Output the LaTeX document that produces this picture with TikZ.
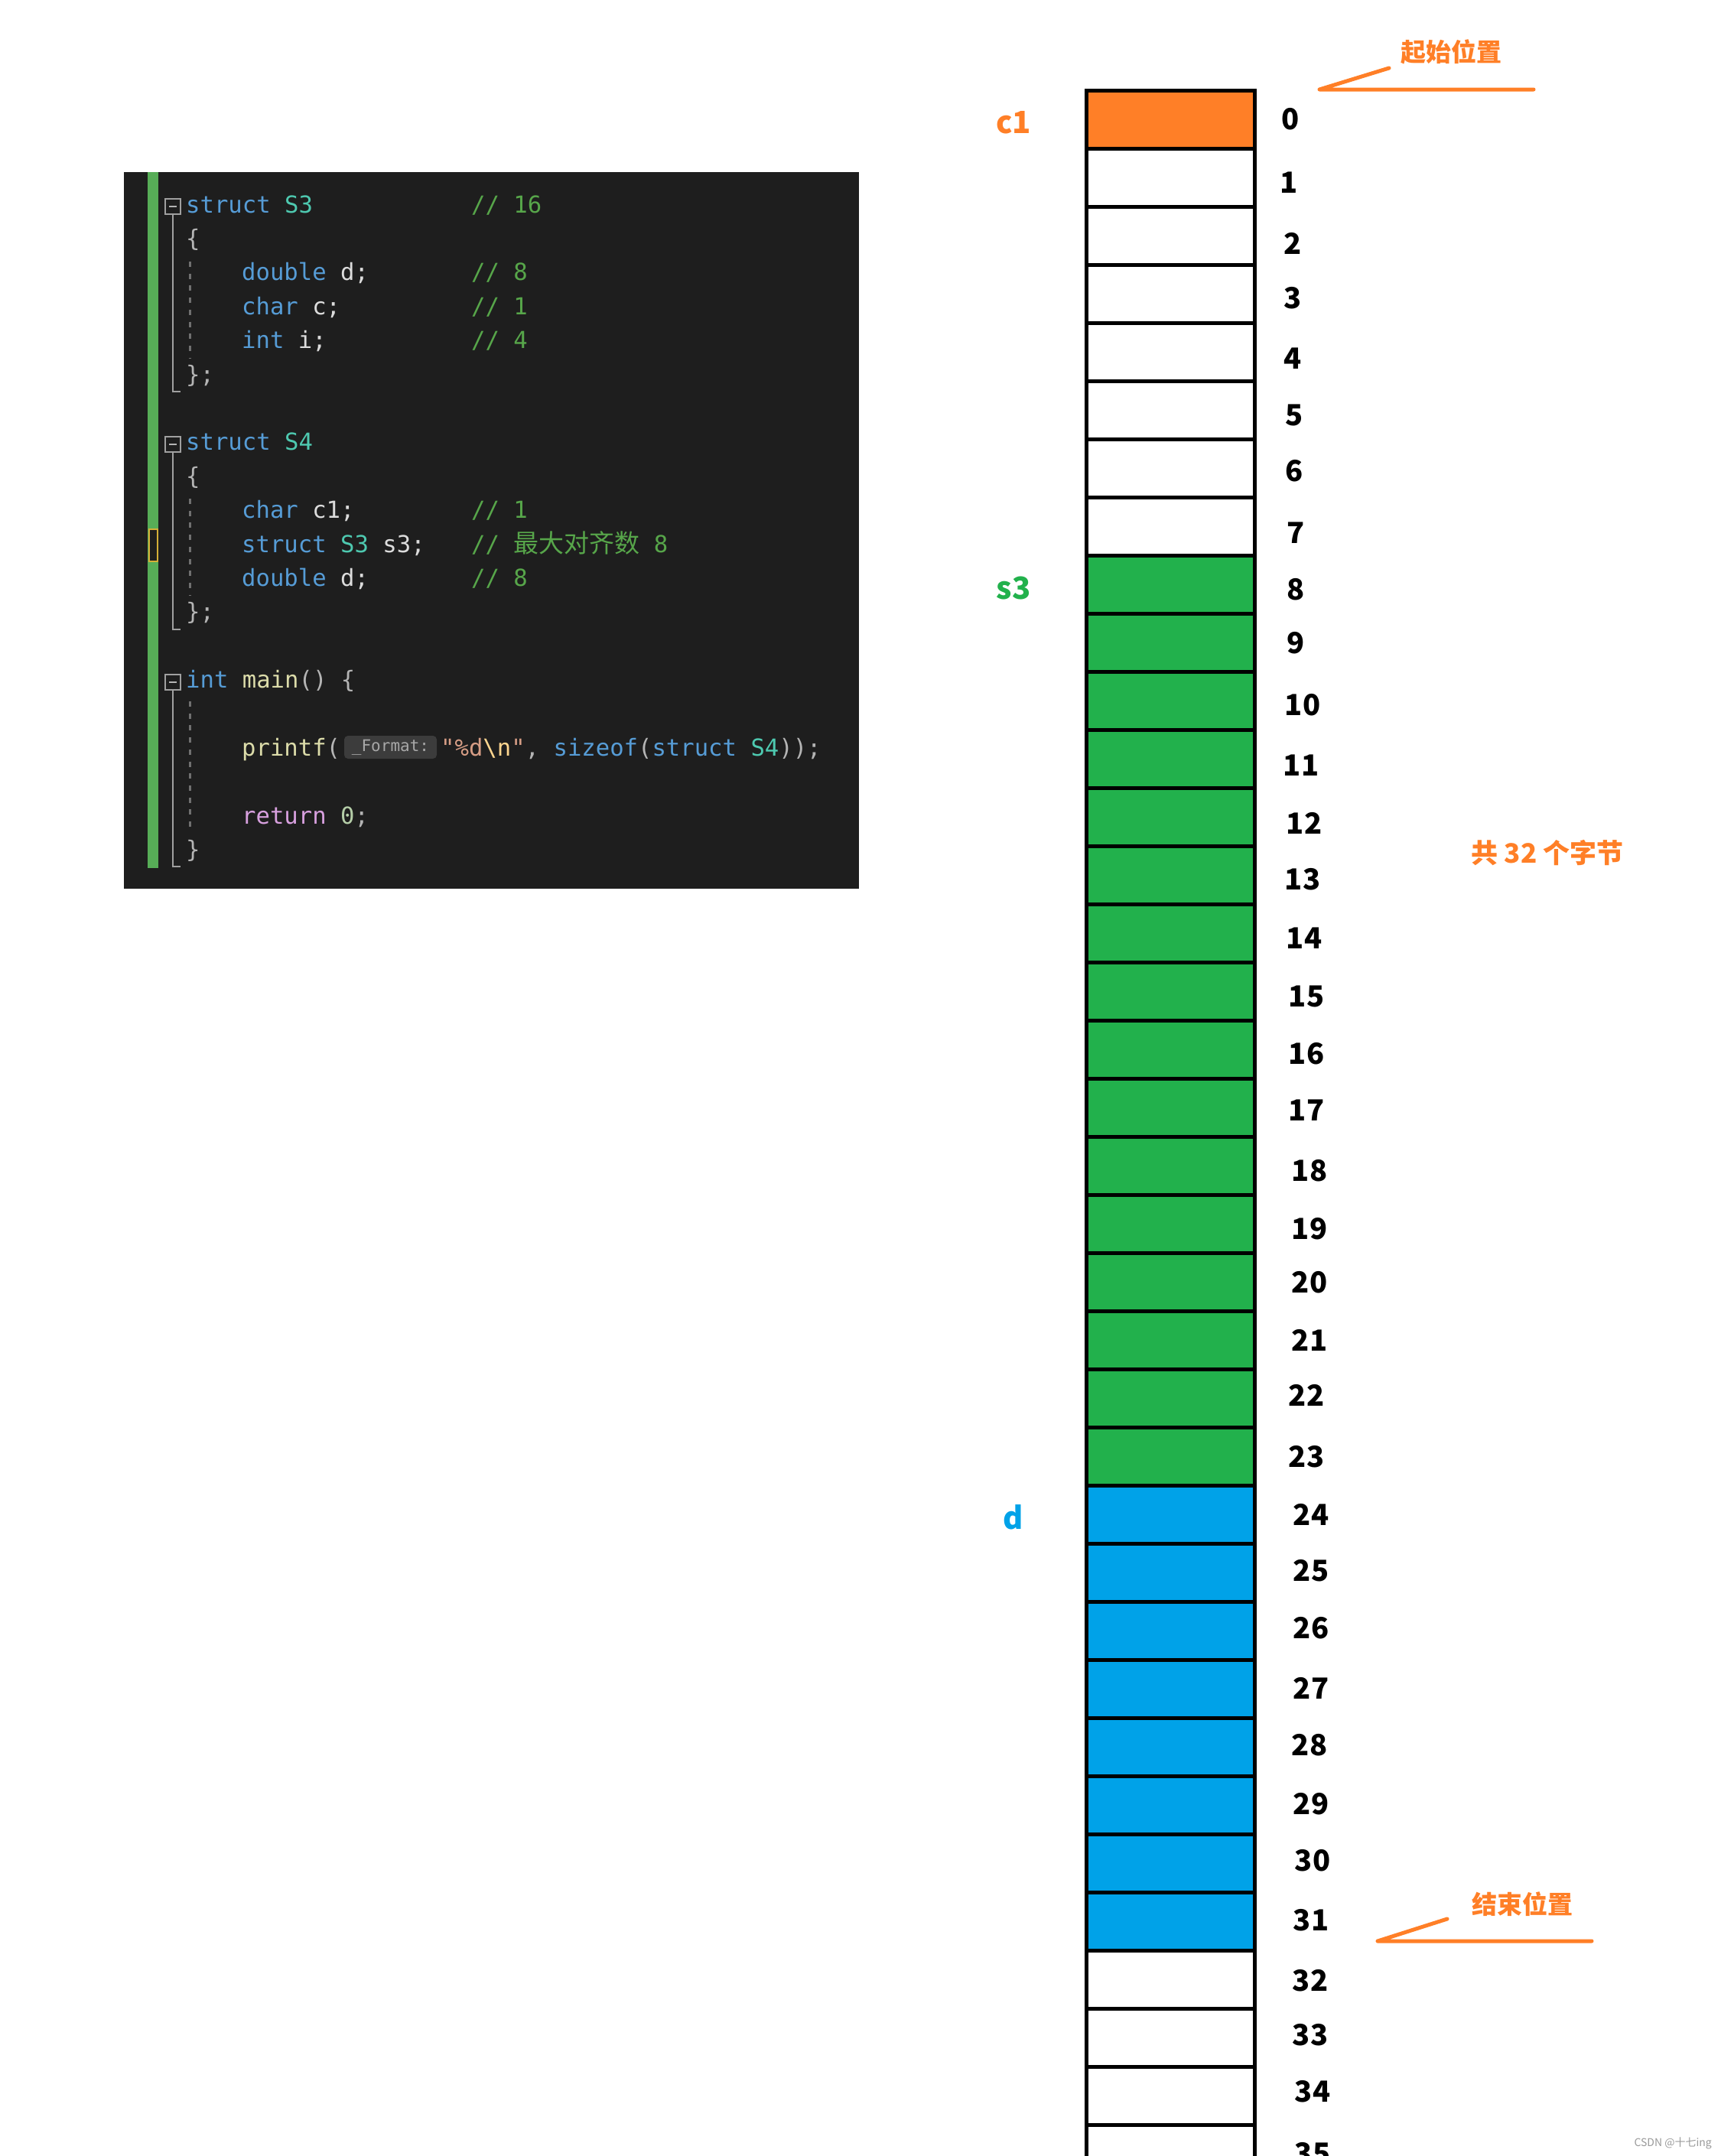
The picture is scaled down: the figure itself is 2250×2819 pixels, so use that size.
\documentclass[tikz,border=0pt]{standalone}
\usepackage{fontspec}
\newfontfamily\codefont{DejaVu Sans Mono}
\newfontfamily\cjk{Noto Sans CJK SC}
\definecolor{bg}{HTML}{1E1E1E}
\definecolor{ckw}{HTML}{569CD6}
\definecolor{cty}{HTML}{4EC9B0}
\definecolor{cid}{HTML}{DCDCDC}
\definecolor{ccm}{HTML}{57A64A}
\definecolor{cfn}{HTML}{DCDCAA}
\definecolor{cpn}{HTML}{B4B4B4}
\definecolor{cctl}{HTML}{D8A0DF}
\definecolor{cnum}{HTML}{B5CEA8}
\definecolor{cstr}{HTML}{D69D85}
\definecolor{cesc}{HTML}{FFD68F}
\definecolor{gutter}{HTML}{57AD57}
\definecolor{gold}{HTML}{D4AF37}
\definecolor{foldc}{HTML}{A0A0A0}
\definecolor{guide}{HTML}{707070}
\definecolor{hintbg}{HTML}{3C3C3C}
\definecolor{hintfg}{HTML}{A8A8A8}
\definecolor{orng}{HTML}{FF7F27}
\definecolor{grn}{HTML}{22B14C}
\definecolor{blu}{HTML}{00A2E8}
\definecolor{wmc}{HTML}{9A9A9A}
\newcommand\Kw[1]{\textcolor{ckw}{#1}}
\newcommand\Ty[1]{\textcolor{cty}{#1}}
\newcommand\Id[1]{\textcolor{cid}{#1}}
\newcommand\Pn[1]{\textcolor{cpn}{#1}}
\newcommand\Fn[1]{\textcolor{cfn}{#1}}
\tikzset{
  codeln/.style={anchor=base west, inner sep=0pt, text=cid,
    font=\codefont\fontsize{30.6pt}{36pt}\selectfont},
  cmt/.style={codeln, text=ccm},
  foldbox/.style={draw=foldc, line width=2pt, fill=bg, minimum size=20pt, inner sep=0pt},
  foldline/.style={draw=foldc, line width=2.5pt},
  guideline/.style={draw=guide, line width=2.5pt, dash pattern=on 7pt off 8.7pt},
  cell/.style={draw=black, line width=5pt, minimum width=220pt, minimum height=76pt, inner sep=0pt},
  idx/.style={inner sep=0pt, font=\cjk\bfseries\fontsize{38pt}{38pt}\selectfont},
  varlbl/.style={inner sep=0pt, font=\cjk\bfseries\fontsize{40pt}{40pt}\selectfont},
  note/.style={inner sep=0pt, text=orng, font=\cjk\bfseries\fontsize{33pt}{33pt}\selectfont},
  annot/.style={draw=orng, line width=5pt, line cap=round, line join=round}
}
\begin{document}
\begin{tikzpicture}[x=1pt,y=-1pt]
\useasboundingbox (0,0) rectangle (2250,2819);
\fill[white] (0,0) rectangle (2250,2819);
\clip (0,0) rectangle (2250,2819);

% ---------- code panel ----------
\node[fill=bg, anchor=north west, inner sep=0pt, minimum width=961pt, minimum height=937pt] (panel) at (162,225) {};
\fill[gutter] (193,225) rectangle (207,1135);
\draw[gold, line width=2.5pt, fill=bg] (195,692) rectangle (206,734);

% fold boxes and fold lines
\foreach \nm/\yy/\ye in {fa/270/512, fb/581/823, fc/892/1133} {
  \node[foldbox] (\nm) at (226,\yy) {};
  \draw[cpn, line width=2pt] ([xshift=-5pt]\nm.center) -- ([xshift=5pt]\nm.center);
  \coordinate (\nm e) at (236,\ye);
  \draw[foldline] (\nm.south) |- (\nm e);
}
% dashed indent guides
\coordinate (ga1) at (248.5,342); \coordinate (ga2) at (248.5,468);
\coordinate (gb1) at (248.5,652); \coordinate (gb2) at (248.5,778);
\coordinate (gc1) at (248.5,917); \coordinate (gc2) at (248.5,1088);
\draw[guideline] (ga1) -- (ga2);
\draw[guideline] (gb1) -- (gb2);
\draw[guideline] (gc1) -- (gc2);

% code lines (baseline y = 278 + 44.4 i)
\node[codeln] (l0) at (243,278) {\Kw{struct} \Ty{S3}};
\node[cmt] (c0) at (616,278) {// 16};
\node[codeln] (l1) at (243,322.4) {\Pn{\{}};
\node[codeln] (l2) at (316,366.8) {\Kw{double} \Id{d;}};
\node[cmt] (c2) at (616,366.8) {// 8};
\node[codeln] (l3) at (316,411.2) {\Kw{char} \Id{c;}};
\node[cmt] (c3) at (616,411.2) {// 1};
\node[codeln] (l4) at (316,455.6) {\Kw{int} \Id{i;}};
\node[cmt] (c4) at (616,455.6) {// 4};
\node[codeln] (l5) at (243,500) {\Pn{\};}};

\node[codeln] (l7) at (243,588.8) {\Kw{struct} \Ty{S4}};
\node[codeln] (l8) at (243,633.2) {\Pn{\{}};
\node[codeln] (l9) at (316,677.6) {\Kw{char} \Id{c1;}};
\node[cmt] (c9) at (616,677.6) {// 1};
\node[codeln] (l10) at (316,722) {\Kw{struct} \Ty{S3} \Id{s3;}};
\node[cmt] (c10) at (616,722) {// {\cjk\fontsize{33pt}{36pt}\selectfont 最大对齐数} 8};
\node[codeln] (l11) at (316,766.4) {\Kw{double} \Id{d;}};
\node[cmt] (c11) at (616,766.4) {// 8};
\node[codeln] (l12) at (243,810.8) {\Pn{\};}};

\node[codeln] (l14) at (243,899.6) {\Kw{int} \Fn{main}\Pn{()} \Pn{\{}};
\node[codeln] (l16) at (316,988.4) {\Fn{printf}\Pn{(}};
\node[fill=hintbg, rounded corners=5pt, minimum width=121pt, minimum height=30pt, inner sep=0pt,
      text=hintfg, font=\codefont\fontsize{21pt}{24pt}\selectfont] (hint) at (510.5,977) {\_Format:};
\node[codeln] (l16b) at (576,988.4) {\textcolor{cstr}{"\%d}\textcolor{cesc}{\textbackslash n}\textcolor{cstr}{"}\Pn{,} \Kw{sizeof}\Pn{(}\Kw{struct} \Ty{S4}\Pn{));}};
\node[codeln] (l18) at (316,1077.2) {\textcolor{cctl}{return} \textcolor{cnum}{0}\Pn{;}};
\node[codeln] (l19) at (243,1121.6) {\Pn{\}}};

% ---------- memory cells ----------
\foreach \k in {0} { \node[cell, fill=orng] (m\k) at (1530,118+76*\k+38) {}; }
\foreach \k in {1,...,7} { \node[cell, fill=white] (m\k) at (1530,118+76*\k+38) {}; }
\foreach \k in {8,...,23} { \node[cell, fill=grn] (m\k) at (1530,118+76*\k+38) {}; }
\foreach \k in {24,...,31} { \node[cell, fill=blu] (m\k) at (1530,118+76*\k+38) {}; }
\foreach \k in {32,...,35} { \node[cell, fill=white] (m\k) at (1530,118+76*\k+38) {}; }

% index numbers
\foreach \k/\xx/\yy in {0/1687/156, 1/1685/239, 2/1690/318, 3/1690/390, 4/1690/469,
  5/1692/543, 6/1692/616, 7/1694/697, 8/1694/771, 9/1694/841, 10/1703/922,
  11/1701/1001, 12/1705/1076, 13/1703/1150, 14/1705/1227, 15/1708/1303,
  16/1708/1378, 17/1708/1452, 18/1712/1531, 19/1712/1607, 20/1712/1677,
  21/1712/1752, 22/1708/1824, 23/1708/1905, 24/1714/1980, 25/1714/2054,
  26/1714/2129, 27/1714/2207, 28/1712/2282, 29/1714/2359, 30/1716/2433,
  31/1714/2511, 32/1713/2590, 33/1713/2661, 34/1716/2735, 35/1716/2816}
  { \node[idx] (n\k) at (\xx,\yy) {\k}; }

% member labels
\node[varlbl, text=orng] (lc1) at (1325,160) {c1};
\node[varlbl, text=grn] (ls3) at (1325,769) {s3};
\node[varlbl, text=blu] (ld) at (1325,1984) {d};

% annotations
\node[note] (start) at (1897,68) {起始位置};
\coordinate (sa) at (1816,89); \coordinate (sb) at (1725,117); \coordinate (sc) at (2005,117);
\draw[annot] (sa) -- (sb) -- (sc);
\node[note] (finish) at (1990,2490) {结束位置};
\coordinate (ea) at (1892,2509); \coordinate (eb) at (1801,2538); \coordinate (ec) at (2081,2538);
\draw[annot] (ea) -- (eb) -- (ec);
\node[note, font=\cjk\bfseries\fontsize{35pt}{35pt}\selectfont] (total) at (2023,1115) {共 32 个字节};

% watermark
\node[inner sep=0pt, anchor=east, text=wmc, font=\cjk\fontsize{14pt}{14pt}\selectfont] (wm) at (2238,2802) {CSDN @十七ing};
\end{tikzpicture}
\end{document}
